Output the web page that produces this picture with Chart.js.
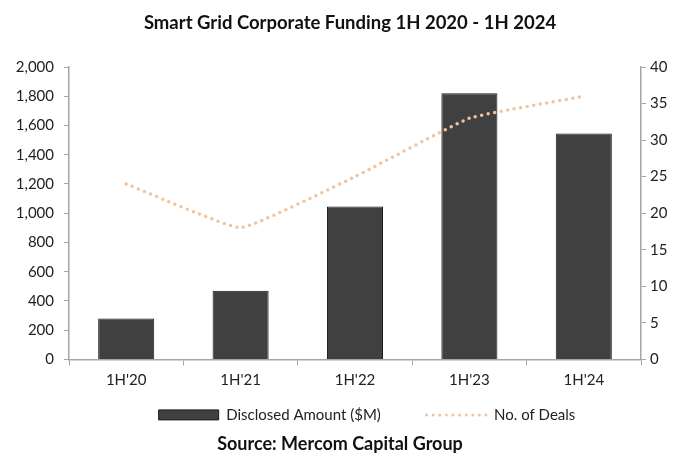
<!DOCTYPE html>
<html>
<head>
<meta charset="utf-8">
<script src="https://cdn.jsdelivr.net/npm/chart.js@4"></script>
<style>
html,body{margin:0;padding:0;background:#fff;}
#wrap{width:700px;height:470px;position:relative;}
</style>
</head>
<body>
<div id="wrap"><canvas id="c" width="700" height="470"></canvas></div>
<script>
const categories = ["1H'20", "1H'21", "1H'22", "1H'23", "1H'24"];
const disclosedAmount = [280, 470, 1045, 1820, 1545];
const numberOfDeals = [24, 18, 25, 33, 36];
const leftTicks = [0, 200, 400, 600, 800, 1000, 1200, 1400, 1600, 1800, 2000];
const rightTicks = [0, 5, 10, 15, 20, 25, 30, 35, 40];

const FONT = "Lato, 'Open Sans', sans-serif";
const AXIS = '#A6A6A6';
const BAR = '#404040';
const LINE = '#F2C49E';

// shift bottom boxes horizontally to match reference placement
const shiftBoxes = {
  id: 'shiftBoxes',
  afterLayout(chart) {
    if (chart.legend) { chart.legend.left += 17; chart.legend.right += 17; }
    const sub = chart.boxes.find(b => b.options && b.options.text === 'Source: Mercom Capital Group');
    if (sub) { sub.left -= 10; sub.right -= 10; }
  }
};

new Chart(document.getElementById('c'), {
  plugins: [shiftBoxes],
  data: {
    labels: categories,
    datasets: [
      {
        type: 'line',
        label: 'No. of Deals',
        data: numberOfDeals,
        yAxisID: 'y2',
        borderColor: LINE,
        backgroundColor: 'transparent',
        borderWidth: 3.5,
        borderDash: [0, 6.6],
        borderCapStyle: 'round',
        pointRadius: 0,
        tension: 0.1,
        order: 0
      },
      {
        type: 'bar',
        label: 'Disclosed Amount ($M)',
        data: disclosedAmount,
        yAxisID: 'y',
        backgroundColor: BAR,
        borderColor: '#1a1a1a',
        borderWidth: 1,
        barPercentage: 0.49,
        categoryPercentage: 1,
        order: 1
      }
    ]
  },
  options: {
    responsive: false,
    animation: false,
    devicePixelRatio: 1,
    layout: { padding: { left: 0, right: 0, top: 0, bottom: 0 } },
    plugins: {
      title: {
        display: true,
        text: 'Smart Grid Corporate Funding 1H 2020 - 1H 2024',
        color: '#111',
        font: { family: FONT, size: 18.5, weight: 'bold' },
        padding: { top: 12, bottom: 32.8 }
      },
      subtitle: {
        display: true,
        position: 'bottom',
        text: 'Source: Mercom Capital Group',
        color: '#111',
        font: { family: FONT, size: 18, weight: 'bold' },
        padding: { top: 1, bottom: 15 }
      },
      legend: {
        position: 'bottom',
        labels: {
          usePointStyle: true,
          pointStyleWidth: 60,
          boxWidth: 60,
          boxHeight: 10,
          padding: 12,
          color: '#222',
          font: { family: FONT, size: 15 },
          generateLabels: function(chart) {
            return [
              { text: 'Disclosed Amount ($M)\u2003\u2003\u2003', fillStyle: BAR, strokeStyle: '#1a1a1a', lineWidth: 1, pointStyle: 'rect', datasetIndex: 1, fontColor: '#222' },
              { text: 'No. of Deals', fillStyle: 'transparent', strokeStyle: LINE, lineWidth: 3, lineDash: [0, 6.6], lineCap: 'round', pointStyle: 'line', datasetIndex: 0, fontColor: '#222' }
            ];
          }
        }
      },
      tooltip: { enabled: false }
    },
    scales: {
      x: {
        offset: true,
        grid: { display: true, drawOnChartArea: false, drawTicks: true, tickLength: 6, color: AXIS, offset: true },
        border: { display: true, color: AXIS, width: 1.5 },
        ticks: { color: '#222', font: { family: FONT, size: 15 }, padding: 6, maxRotation: 0 }
      },
      y: {
        position: 'left',
        min: 0, max: 2000,
        afterFit: function(s) { s.width = 69; },
        afterBuildTicks: function(s) { s.ticks = leftTicks.map(v => ({ value: v })); },
        grid: { display: true, drawOnChartArea: false, drawTicks: true, tickLength: 5, color: AXIS },
        border: { display: true, color: AXIS, width: 1.5 },
        ticks: {
          color: '#222', font: { family: FONT, size: 15 }, padding: 10,
          callback: v => v.toLocaleString('en-US')
        }
      },
      y2: {
        position: 'right',
        min: 0, max: 40,
        afterFit: function(s) { s.width = 59; },
        afterBuildTicks: function(s) { s.ticks = rightTicks.map(v => ({ value: v })); },
        grid: { display: true, drawOnChartArea: false, drawTicks: true, tickLength: 5, color: AXIS },
        border: { display: true, color: AXIS, width: 1.5 },
        ticks: { color: '#222', font: { family: FONT, size: 15 }, padding: 4 }
      }
    }
  }
});
</script>
</body>
</html>
